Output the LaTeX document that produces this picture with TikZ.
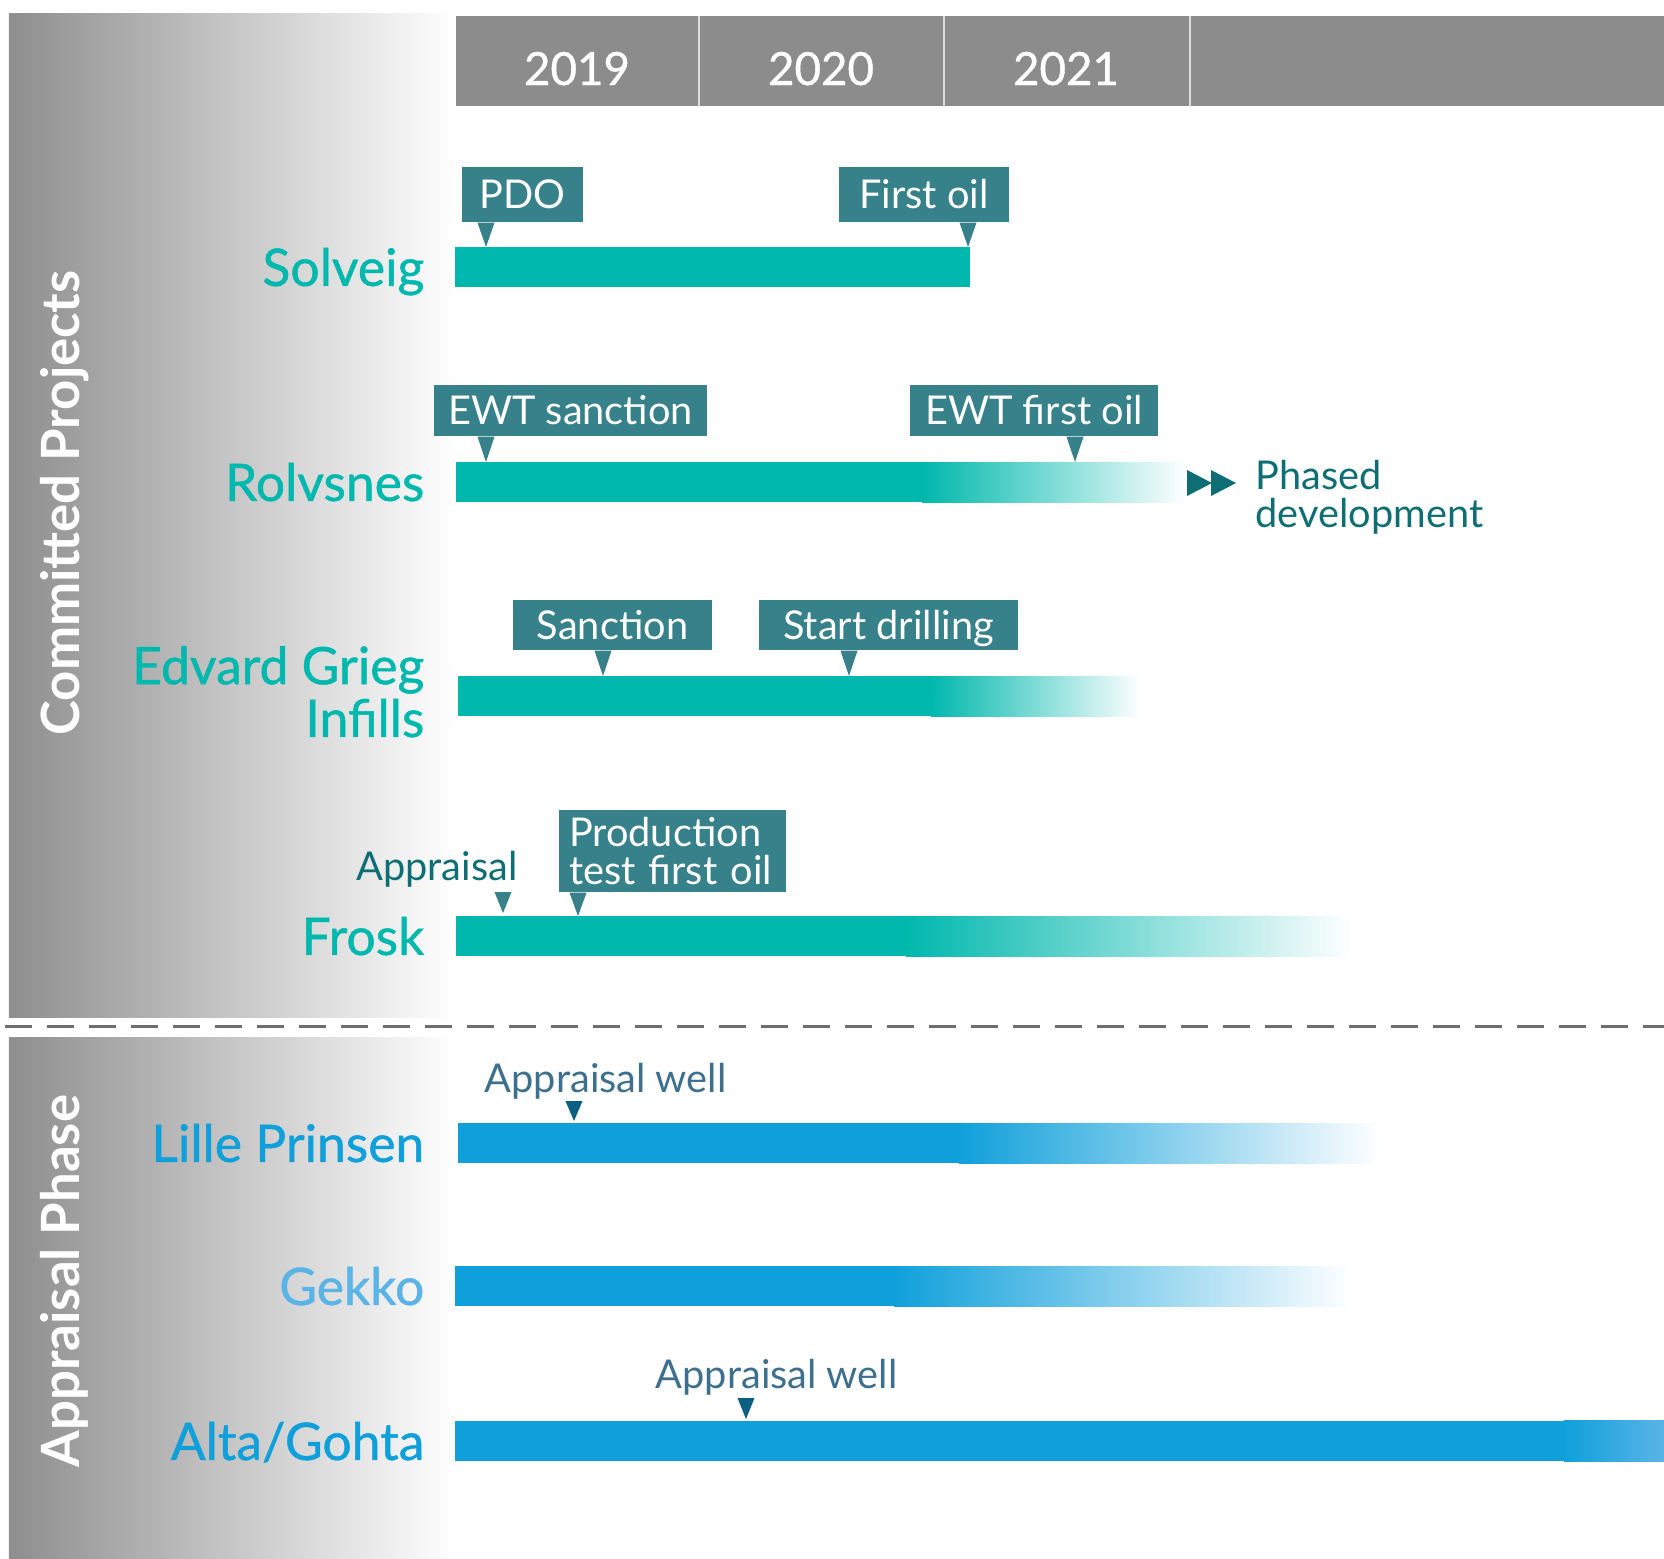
\documentclass[tikz,border=0pt]{standalone}
\usepackage{fontspec}
\setmainfont{Lato}
\newfontfamily\namefont{Lato}[FakeBold=0.9]
\usepackage{tikz}

\definecolor{oilteal}{HTML}{00B8AD}
\definecolor{tagteal}{HTML}{37818A}
\definecolor{darkteal}{HTML}{0E6E73}
\definecolor{wellblue}{HTML}{0FA0DB}
\definecolor{gekkoblue}{HTML}{5AB4E6}
\definecolor{noteblue}{HTML}{3D6F8E}
\definecolor{markblue}{HTML}{0B5F80}
\definecolor{headgray}{HTML}{8C8C8C}
\definecolor{panelgray}{HTML}{8E8E8E}
\definecolor{sepgray}{HTML}{6E6E6E}

\tikzset{
  year/.style = {anchor=base, text=white, inner sep=0, font=\namefont\fontsize{13}{13}\selectfont},
  side/.style = {anchor=base, rotate=90, text=white, inner sep=0, font=\bfseries\fontsize{15}{15}\selectfont},
  field/.style = {anchor=mid east, inner sep=0, font=\namefont\fontsize{14.7}{15}\selectfont},
  tag/.style = {fill=tagteal, text=white, inner sep=0, text height=8.2pt, text depth=0pt, font=\fontsize{11.3}{10.6}\selectfont},
  tagbox/.style = {fill=tagteal, text=white, inner ysep=0, inner xsep=0.10cm, align=left, font=\fontsize{11.3}{10.6}\selectfont},
  note/.style = {inner sep=0, font=\fontsize{11.3}{10.6}\selectfont},
}

% pointer from a callout box down to its bar
\newcommand\tagpin[2]{\fill[tagteal] (#2) -- ([xshift=-0.085cm]#2 |- #1.south) -- ([xshift=0.085cm]#2 |- #1.south) -- cycle;}

\begin{document}
\begin{tikzpicture}[x=1cm, y=-1cm]
  \useasboundingbox (0,0) rectangle (16.64,15.58);

  % side panels and separator
  \shade [left color=panelgray, right color=white] (0.09,0.13) rectangle (4.56,10.17);
  \shade [left color=panelgray, right color=white] (0.09,10.37) rectangle (4.56,15.58);
  \draw [sepgray, line width=0.03cm, dash pattern=on 0.27cm off 0.15cm] (0.05,10.26) -- (16.64,10.26);

  \node [side] (committed) at (0.79,5.03) {Committed Projects};
  \node [side] (appraisal) at (0.79,12.81) {Appraisal Phase};

  % year header
  \fill [headgray] (4.56,0.16) rectangle (16.64,1.06);
  \foreach \x in {6.99, 9.44, 11.90}
    \draw [white!70!headgray, line width=0.02cm] (\x,0.16) -- (\x,1.06);
  \foreach \x/\yr in {5.77/2019, 8.21/2020, 10.66/2021}
    \node [year] (y\yr) at (\x,0.85) {\yr};

  % bars: top / start / end of solid part / end of fade
  \fill [oilteal] (4.55,2.47) rectangle (9.70,2.87);
  \foreach \y/\a/\b/\c in {4.62/4.56/9.23/11.86, 6.76/4.58/9.32/11.41, 9.16/4.56/9.07/13.53} {
    \fill [oilteal] (\a,\y) rectangle (\b,\y+0.40);
    \shade [left color=oilteal, right color=white] (\b-0.01,\y) rectangle (\c,\y+0.40);
  }
  \foreach \y/\a/\b/\c in {11.23/4.58/9.60/13.80, 12.66/4.55/8.95/13.53} {
    \fill [wellblue] (\a,\y) rectangle (\b,\y+0.40);
    \shade [left color=wellblue, right color=white] (\b-0.01,\y) rectangle (\c,\y+0.40);
  }
  \fill [wellblue] (4.55,14.21) rectangle (15.65,14.61);
  \shade [left color=wellblue, right color=gekkoblue] (15.64,14.20) rectangle (16.64,14.61);

  % field names
  \node [field, text=oilteal] (solveig) at (4.25,2.77) {Solveig};
  \node [field, text=oilteal] (rolvsnes) at (4.25,4.92) {Rolvsnes};
  \node [field, text=oilteal, align=right] (edvard) at (4.25,7.28) {Edvard Grieg\\Infills};
  \node [field, text=oilteal] (frosk) at (4.25,9.46) {Frosk};
  \node [field, text=wellblue] (lille) at (4.25,11.53) {Lille Prinsen};
  \node [field, text=gekkoblue] (gekko) at (4.25,12.96) {Gekko};
  \node [field, text=wellblue] (alta) at (4.25,14.51) {Alta/Gohta};

  % milestones
  \node [tag, minimum width=1.21cm, minimum height=0.55cm] (pdo) at (5.225,1.945) {PDO};
  \node [tag, minimum width=1.70cm, minimum height=0.55cm] (firstoil) at (9.24,1.945) {First oil};
  \node [tag, minimum width=2.73cm, minimum height=0.51cm] (ewtsanc) at (5.705,4.105) {EWT sanction};
  \node [tag, minimum width=2.48cm, minimum height=0.51cm] (ewtoil) at (10.34,4.105) {EWT first oil};
  \node [tag, minimum width=1.99cm, minimum height=0.50cm] (sanction) at (6.125,6.25) {Sanction};
  \node [tag, minimum width=2.59cm, minimum height=0.50cm] (drilling) at (8.885,6.25) {Start drilling};
  \node [tagbox, text width=2.07cm, minimum height=0.82cm] (prodtest) at (6.725,8.51) {Production\\test first oil};

  \coordinate (pdo-tip) at (4.86,2.47);
  \coordinate (firstoil-tip) at (9.68,2.47);
  \coordinate (ewtsanc-tip) at (4.86,4.62);
  \coordinate (ewtoil-tip) at (10.75,4.62);
  \coordinate (sanction-tip) at (6.03,6.76);
  \coordinate (drilling-tip) at (8.49,6.76);
  \coordinate (prodtest-tip) at (5.78,9.16);
  \foreach \t in {pdo, firstoil, ewtsanc, ewtoil, sanction, drilling, prodtest} {
    \tagpin{\t}{\t-tip}
  }

  % phased development marker
  \fill [darkteal] (11.87,4.70) -- (11.87,4.96) -- (12.12,4.83) -- cycle;
  \fill [darkteal] (12.11,4.70) -- (12.11,4.96) -- (12.36,4.83) -- cycle;
  \node [note, text=darkteal, align=left, anchor=base west] (phased) at (12.55,5.27) {Phased\\development};

  % appraisal marks
  \node [note, text=darkteal, anchor=base east] (frosk-appr) at (5.18,8.80) {Appraisal};
  \fill [tagteal] (5.03,9.13) -- +(-0.085,-0.21) -- +(0.085,-0.21) -- cycle;
  \node [note, text=noteblue, anchor=base west] (lille-well) at (4.84,10.92) {Appraisal well};
  \fill [markblue] (5.74,11.21) -- +(-0.085,-0.20) -- +(0.085,-0.20) -- cycle;
  \node [note, text=noteblue, anchor=base west] (alta-well) at (6.55,13.88) {Appraisal well};
  \fill [markblue] (7.46,14.19) -- +(-0.085,-0.21) -- +(0.085,-0.21) -- cycle;
\end{tikzpicture}
\end{document}
